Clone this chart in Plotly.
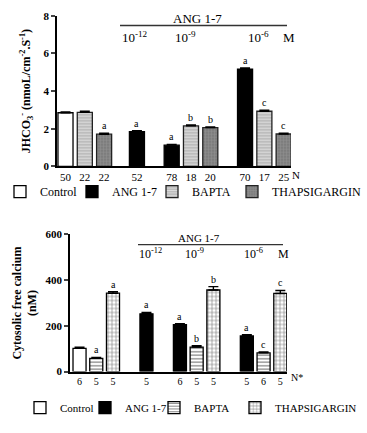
import plotly.graph_objects as go

W, H = 367, 433
def px(x): return x / W
def py(y): return 1 - y / H

FONT = "Liberation Serif"

# ---------------- data ----------------
groups = ["Control", "ANG 1-7 10^-12 M", "ANG 1-7 10^-9 M", "ANG 1-7 10^-6 M"]
series = ["Control", "ANG 1-7", "BAPTA", "THAPSIGARGIN"]

# Top panel: JHCO3- (nmoL/cm-2.S-1)
top_control = [2.85, None, None, None]
top_ang = [None, 1.85, 1.13, 5.17]
top_bapta = [2.87, None, 2.15, 2.93]
top_thap = [1.71, None, 2.06, 1.72]
top_control_err = [0.04, None, None, None]
top_ang_err = [None, 0.05, 0.04, 0.06]
top_bapta_err = [0.06, None, 0.05, 0.05]
top_thap_err = [0.05, None, 0.04, 0.05]
top_control_n = ["50", None, None, None]
top_ang_n = [None, "52", "78", "70"]
top_bapta_n = ["22", None, "18", "17"]
top_thap_n = ["22", None, "20", "25"]
top_control_sig = ["", None, None, None]
top_ang_sig = [None, "a", "a", "a"]
top_bapta_sig = ["", None, "b", "c"]
top_thap_sig = ["a", None, "b", "c"]

# Bottom panel: cytosolic free calcium (nM)
bot_control = [102, None, None, None]
bot_ang = [None, 253, 205, 156]
bot_bapta = [58, None, 107, 82]
bot_thap = [343, None, 357, 342]
bot_control_err = [5, None, None, None]
bot_ang_err = [None, 6, 5, 5]
bot_bapta_err = [4, None, 6, 4]
bot_thap_err = [7, None, 15, 13]
bot_control_n = ["6", None, None, None]
bot_ang_n = [None, "5", "6", "5"]
bot_bapta_n = ["5", None, "5", "6"]
bot_thap_n = ["5", None, "5", "5"]
bot_control_sig = ["", None, None, None]
bot_ang_sig = [None, "a", "a", "a"]
bot_bapta_sig = ["a", None, "b", "c"]
bot_thap_sig = ["a", None, "b", "c"]

# ---------------- layout helpers ----------------
series_slot = [0, 0, 1, 2]
top_group_start = [0, 3.7, 5.5, 9.3]
bot_group_start = [0, 4.0, 6.0, 10.0]

top_styles = [
    dict(color="white", line=dict(color="black", width=1.3)),
    dict(color="black", line=dict(color="black", width=1.3)),
    dict(color="#bdbdbd", line=dict(color="#222", width=1.3),
         pattern=dict(shape="-", fgcolor="white", size=3, solidity=0.3)),
    dict(color="#7d7d7d", line=dict(color="#222", width=1.3),
         pattern=dict(shape="+", fgcolor="#a8a8a8", size=3, solidity=0.3)),
]
bot_styles = [
    dict(color="white", line=dict(color="black", width=1.3)),
    dict(color="black", line=dict(color="black", width=1.3)),
    dict(color="white", line=dict(color="black", width=1.3),
         pattern=dict(shape="-", fgcolor="black", size=3.5, solidity=0.35)),
    dict(color="white", line=dict(color="black", width=1.3),
         pattern=dict(shape="+", fgcolor="black", size=4, solidity=0.3)),
]

fig = go.Figure()

def add_panel(vals, errs, ns, sigs, gstart, styles, xa, ya, legends, width):
    tickv, tickt = [], []
    for s, name in enumerate(series):
        xs, ys, es = [], [], []
        for g in range(len(groups)):
            if vals[s][g] is None:
                continue
            x = gstart[g] + series_slot[s]
            xs.append(x)
            ys.append(vals[s][g])
            es.append(errs[s][g])
            tickv.append(x)
            tickt.append(ns[s][g])
            if sigs[s][g]:
                fig.add_annotation(
                    x=x, y=vals[s][g] + errs[s][g], xref=xa, yref=ya,
                    text=sigs[s][g], showarrow=False, yanchor="bottom", yshift=0,
                    font=dict(family=FONT, size=10, color="black"))
        fig.add_trace(go.Bar(
            x=xs, y=ys, width=width, name=name, marker=styles[s],
            error_y=dict(type="data", array=es, arrayminus=[0] * len(es),
                         symmetric=False, color="black", thickness=1.4, width=5),
            xaxis=xa, yaxis=ya, legend=legends[s], showlegend=True,
        ))
    return tickv, tickt

tv1, tt1 = add_panel([top_control, top_ang, top_bapta, top_thap],
                     [top_control_err, top_ang_err, top_bapta_err, top_thap_err],
                     [top_control_n, top_ang_n, top_bapta_n, top_thap_n],
                     [top_control_sig, top_ang_sig, top_bapta_sig, top_thap_sig],
                     top_group_start, top_styles, "x", "y",
                     ["legend", "legend2", "legend3", "legend4"], 0.78)
tv2, tt2 = add_panel([bot_control, bot_ang, bot_bapta, bot_thap],
                     [bot_control_err, bot_ang_err, bot_bapta_err, bot_thap_err],
                     [bot_control_n, bot_ang_n, bot_bapta_n, bot_thap_n],
                     [bot_control_sig, bot_ang_sig, bot_bapta_sig, bot_thap_sig],
                     bot_group_start, bot_styles, "x2", "y2",
                     ["legend5", "legend6", "legend7", "legend8"], 0.78)

axis_common = dict(showline=True, linecolor="black", linewidth=1.6,
                   showgrid=False, zeroline=False, mirror=False)

fig.update_layout(
    width=W, height=H, margin=dict(l=0, r=0, t=0, b=0),
    paper_bgcolor="white", plot_bgcolor="white",
    barmode="overlay", font=dict(family=FONT, color="black"),
    xaxis=dict(domain=[px(57), px(291)], range=[-0.44, 11.68], anchor="y",
               tickmode="array", tickvals=tv1, ticktext=tt1, ticks="",
               tickfont=dict(family=FONT, size=11), **axis_common),
    yaxis=dict(domain=[py(165), py(10)], range=[0, 8], anchor="x",
               tickvals=[0, 2, 4, 6, 8], ticks="outside", ticklen=4, tickwidth=1.5,
               tickfont=dict(family=FONT, size=11, weight="bold"),
               title=dict(text="JHCO<sub>3</sub><sup>-</sup> (nmoL/cm<sup>-2</sup>.S<sup>-1</sup>)",
                          font=dict(family=FONT, size=12, weight="bold"), standoff=10),
               **axis_common),
    xaxis2=dict(domain=[px(70), px(287)], range=[-0.57, 12.4], anchor="y2",
                tickmode="array", tickvals=tv2, ticktext=tt2, ticks="",
                tickfont=dict(family=FONT, size=10), **axis_common),
    yaxis2=dict(domain=[py(376), py(235)], range=[0, 600], anchor="x2",
                tickvals=[0, 200, 400, 600], ticks="outside", ticklen=4, tickwidth=1.5,
                tickfont=dict(family=FONT, size=11, weight="bold"),
                title=dict(text="Cytosolic free calcium<br>(nM)",
                           font=dict(family=FONT, size=12, weight="bold"), standoff=6),
                **axis_common),
)

# legends: one per item so spacing matches
top_leg_x = [0, 72, 152, 232]
bot_leg_x = [20, 85, 154, 235]
leg_names = ["legend", "legend2", "legend3", "legend4",
             "legend5", "legend6", "legend7", "legend8"]
for i, nm in enumerate(leg_names):
    if i < 4:
        x, y, fs = top_leg_x[i], 191, 12
    else:
        x, y, fs = bot_leg_x[i - 4], 413, 11
    fig.update_layout({nm: dict(x=px(x), y=py(y), xanchor="left", yanchor="middle",
                                orientation="h", bgcolor="rgba(0,0,0,0)",
                                font=dict(family=FONT, size=fs, color="black"))})

# ANG 1-7 brackets and concentration labels
fig.add_shape(type="line", xref="paper", yref="paper",
              x0=px(120), x1=px(287), y0=py(20), y1=py(20),
              line=dict(color="#333", width=1.5))
fig.add_shape(type="line", xref="paper", yref="paper",
              x0=px(138), x1=px(283), y0=py(245.5), y1=py(245.5),
              line=dict(color="#333", width=1.2))

def ann(x, y, text, size=12):
    fig.add_annotation(x=px(x), y=py(y), xref="paper", yref="paper", text=text,
                       showarrow=False, xanchor="center", yanchor="middle",
                       font=dict(family=FONT, size=size, color="black"))

ann(197, 13, "ANG 1-7", 13)
ann(135, 32, "10<sup>-12</sup>", 13)
ann(185, 32, "10<sup>-9</sup>", 13)
ann(258, 32, "10<sup>-6</sup>", 13)
ann(289, 32, "M", 13)
ann(296, 174, "N", 11)

ann(199, 238.5, "ANG 1-7", 11)
ann(150, 255, "10<sup>-12</sup>", 12)
ann(194, 255, "10<sup>-9</sup>", 12)
ann(253, 255, "10<sup>-6</sup>", 12)
ann(283, 255, "M", 12)
ann(297, 382, "N*", 10)

fig.write_html("out.html", config={"displayModeBar": False},
               post_script="document.body.style.margin='0';document.body.style.padding='0';")
